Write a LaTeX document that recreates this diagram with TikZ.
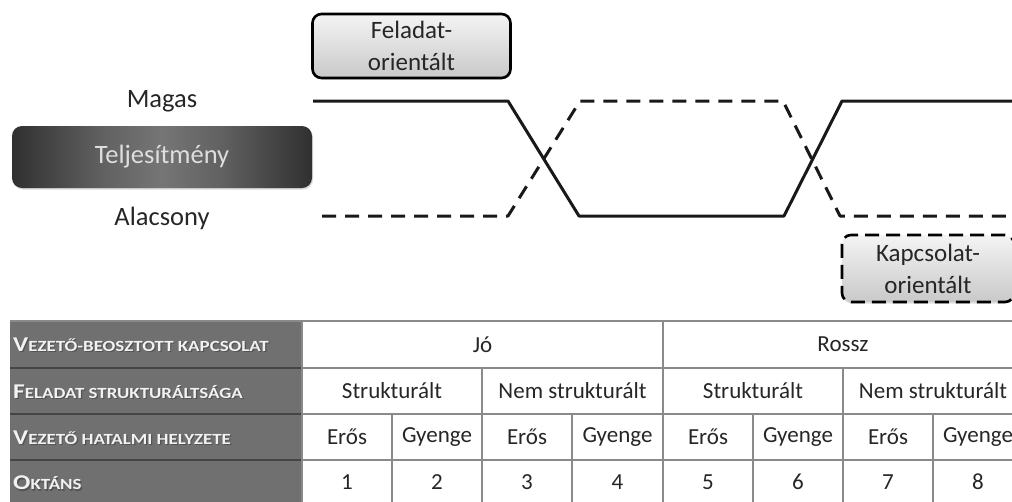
\documentclass[tikz,border=0pt]{standalone}
\usepackage{fontspec}
\setmainfont{Carlito}
\usetikzlibrary{shadows}
\definecolor{ink}{HTML}{262626}
\definecolor{gridline}{HTML}{8A8A8A}
\definecolor{headfill}{HTML}{707070}
\definecolor{headline}{HTML}{454545}
\definecolor{headtext}{HTML}{F2F2F2}
\definecolor{boxlo}{HTML}{C9C9C9}
\definecolor{boxhi}{HTML}{F4F4F4}
% dark bar: black at the ends, grey in the middle
\pgfdeclarehorizontalshading{darkbar}{100bp}{%
  color(0bp)=(black!95); color(22bp)=(black!85); color(40bp)=(black!62);
  color(50bp)=(black!54); color(60bp)=(black!62); color(78bp)=(black!85);
  color(100bp)=(black!95)}
% widened small capitals for the row headings
\newcommand\rowcaps[2]{\scalebox{1.22}[1]{{\fontsize{21}{21}\selectfont #1}{\fontsize{15.5}{15.5}\selectfont #2}}}
\tikzset{
  label text/.style={text=ink, font=\fontsize{26.5}{32}\selectfont, align=center},
  orient box/.style={draw=black, line width=2.6pt, rounded corners=9pt,
    top color=boxhi, bottom color=boxlo, text=ink,
    font=\fontsize{25}{32}\selectfont, align=center,
    drop shadow={opacity=0.25, shadow xshift=1pt, shadow yshift=-1.5pt}},
  perf line/.style={line width=3pt, line join=round, black!90},
  perf dashed/.style={perf line, dash pattern=on 14pt off 9pt},
  cell/.style={text=ink, font=\fontsize{23}{26}\selectfont, inner sep=0pt},
  head/.style={text=headtext, font=\bfseries, anchor=west, inner sep=0pt},
  head shade/.style={text=black!75, font=\bfseries, anchor=west, inner sep=0pt, opacity=0.6},
}
\begin{document}
\begin{tikzpicture}[x=1pt,y=-1pt]
\useasboundingbox (0,0) rectangle (1012,501);
\clip (0,0) rectangle (1012,501);

% performance axis labels
\node[label text] (magas) at (162,101) {Magas};
\node[label text] (alacsony) at (162,218) {Alacsony};
\node[rounded corners=10pt, minimum width=300pt, minimum height=62pt,
      shading=darkbar, text=black!13, font=\fontsize{26.5}{30}\selectfont,
      drop shadow={opacity=0.3, shadow xshift=1pt, shadow yshift=-1.5pt}]
      (telj) at (162,157) {Teljesítmény};

% leadership style boxes
\node[orient box, minimum width=198pt, minimum height=64pt] (feladat) at (411.5,46) {Feladat-\\orientált};
\node[orient box, dash pattern=on 14pt off 7pt, minimum width=172pt, minimum height=67pt] (kapcs) at (928,268.5) {Kapcsolat-\\orientált};

% performance curves
\draw[perf line] (313,101) -- (508,101) -- (579,216) -- (784,216) -- (842,101) -- (1016,101);
\draw[perf dashed] (322,216) -- (508,216) -- (580,101) -- (783,101) -- (840,216) -- (1016,216);

% table: heading column
\fill[headfill] (10,321) rectangle (302,506);
\foreach \y in {368,414,460} \draw[headline, line width=1.2pt] (10,\y) -- (302,\y);
\draw[gridline, line width=1.2pt] (10,321) -- (1016,321);
\foreach \y in {368,414,460} \draw[gridline, line width=1.2pt] (302,\y) -- (1016,\y);
% vertical rules
\draw[gridline, line width=1.2pt] (302,321) -- (302,506);
\draw[gridline, line width=1.2pt] (663,321) -- (663,506);
\foreach \x in {482,843} \draw[gridline, line width=1.2pt] (\x,368) -- (\x,506);
\foreach \x in {392,572,753,933} \draw[gridline, line width=1.2pt] (\x,414) -- (\x,506);

% row headings (shadow, then text)
\foreach \name/\y/\a/\b in {h1/345/V/EZETŐ-BEOSZTOTT KAPCSOLAT, h2/391.5/F/ELADAT STRUKTURÁLTSÁGA, h3/437.5/V/EZETŐ HATALMI HELYZETE, h4/483/O/KTÁNS}{
  \node[head shade] at (14.2,\y+1.2) {\rowcaps{\a}{\b}};
  \node[head] (\name) at (13,\y) {\rowcaps{\a}{\b}};
}

% row 1
\node[cell] (jo) at (482.5,344.5) {Jó};
\node[cell] (rossz) at (843,344.5) {Rossz};
% row 2
\node[cell] (s1) at (392,391) {Strukturált};
\node[cell] (s2) at (572.5,391) {Nem strukturált};
\node[cell] (s3) at (753,391) {Strukturált};
\node[cell] (s4) at (933,391) {Nem strukturált};
% row 3 and 4
\foreach \i/\x/\w in {1/347/Erős,2/437/Gyenge,3/527/Erős,4/617.5/Gyenge,5/708/Erős,6/798/Gyenge,7/888/Erős,8/978/Gyenge}{
  \node[cell] (p\i) at (\x,437) {\w};
  \node[cell] (o\i) at (\x,482) {\i};
}
\end{tikzpicture}
\end{document}
